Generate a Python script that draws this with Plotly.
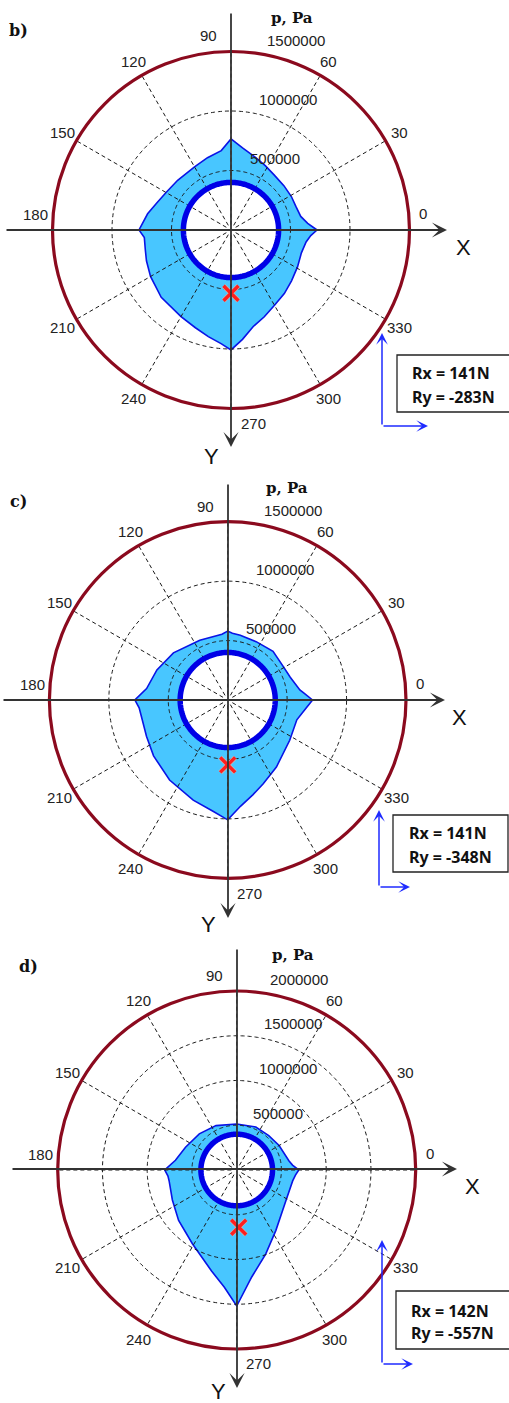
import numpy as np
import plotly.graph_objects as go

# ---------------- data ----------------
panel_names = ["b)", "c)", "d)"]

theta_b = [0, 5, 11, 20, 29, 40, 52, 62, 72, 82, 90, 97, 108, 120, 137, 150, 160, 169, 180, 185,
           193, 200, 210, 224, 240, 250, 258, 265, 270, 276, 283, 291, 300, 310, 320, 331, 342, 351, 356, 360]
p_b = [723000, 647000, 597000, 580000, 580000, 580000, 588000, 613000, 647000, 697000,
       765000, 672000, 639000, 613000, 613000, 630000, 664000, 714000, 773000, 731000,
       739000, 756000, 781000, 815000, 840000, 874000, 916000, 958000, 1008000, 924000,
       832000, 781000, 731000, 697000, 664000, 639000, 622000, 639000, 672000, 723000]

theta_c = [0, 5, 8, 20, 31, 47, 64, 79, 86, 90, 95, 115, 139, 157, 172, 180, 185, 191, 204, 217,
           234, 251, 262, 270, 277, 285, 293, 306, 327, 344, 353, 360]
p_c = [714000, 647000, 613000, 560000, 546000, 559000, 546000, 555000, 563000, 580000,
       555000, 555000, 605000, 647000, 689000, 781000, 748000, 739000, 748000, 781000,
       832000, 891000, 941000, 1008000, 899000, 824000, 765000, 697000, 622000, 605000,
       655000, 714000]

theta_d = [0, 5, 10, 30, 47, 66, 90, 115, 136, 156, 171, 180, 185, 189, 205, 221, 239, 256, 264, 270,
           278, 289, 303, 328, 349, 355, 360]
p_d = [693000, 626000, 592000, 547000, 525000, 525000, 514000, 547000, 581000, 626000,
       693000, 804000, 771000, 765000, 793000, 860000, 961000, 1162000, 1318000, 1520000,
       1207000, 994000, 804000, 648000, 637000, 659000, 693000]

journal_r = 400000                       # thick blue reference circle
cross_r = [532000, 546000, 640000]       # red cross position
cross_theta = [270, 270, 272]
rx_vals = [141, 141, 142]
ry_vals = [-283, -348, -557]
r_max = [1500000, 1500000, 2000000]
radial_ticks = [[500000, 1000000, 1500000],
                [500000, 1000000, 1500000],
                [500000, 1000000, 1500000, 2000000]]
angle_ticks = list(range(0, 360, 30))

thetas = [theta_b, theta_c, theta_d]
pressures = [p_b, p_c, p_d]

# ---------------- layout geometry (pixels) ----------------
W, H = 509, 1403
centers = [(231, 230), (227.7, 700), (236.7, 1170)]
radii = [178.5, 178.3, 179]
x_label_pos = [(463, 247), (459, 717), (472, 1186)]
y_label_pos = [(211, 456), (208, 924), (218, 1391)]
name_pos = [(18, 31), (18, 501), (28, 966)]
unit_pos = [(292, 18), (287, 488), (293, 955)]
xaxis_seg = [((5, 230), (447, 230)), ((2, 700), (445, 700)), ((11, 1169), (457, 1169))]
yaxis_seg = [((231, 12), (231, 447)), ((228, 483), (228, 918)), ((237, 948), (237, 1388))]
box_rect = [(397, 355, 512, 412), (393, 815, 508, 872), (396, 1291, 512, 1349)]
box_text = [(410, 373, 397), (407, 833, 857), (409, 1311, 1333)]
force_axes = [((382, 426), (382, 333), (428, 426)),
              ((379, 887), (379, 810), (410, 887)),
              ((382, 1364), (382, 1240), (413, 1364))]
label_offsets = {0: (5, 1.082), 90: (6.5, 1.095), 180: (-4.5, 1.10), 270: (6.5, 1.09)}
radial_label_theta = [[74, 77.5, 79], [74, 77.5, 79], [72, 77, 79, 80]]


def px(x):
    return x / W


def py(y):
    return 1 - y / H


FILL = "#48C6FF"
EDGE = "#0a14e6"
RING = "#0000e6"
MAROON = "#8b0a1e"
AXIS = "#333333"
GRID = "#1a1a1a"
LABEL_FONT = dict(family="Liberation Sans", size=15, color="#222")

fig = go.Figure()
ring_theta = np.linspace(0, 360, 361)
annotations = []
shapes = []
polars = {}

for i in range(3):
    sp = "polar" if i == 0 else f"polar{i + 1}"
    cx, cy = centers[i]
    R = radii[i]
    polars[sp] = dict(
        domain=dict(x=[px(cx - R), px(cx + R)], y=[py(cy + R), py(cy - R)]),
        bgcolor="white",
        radialaxis=dict(range=[0, r_max[i]], showgrid=False, showline=False,
                        showticklabels=False, ticks=""),
        angularaxis=dict(showgrid=False, showticklabels=False, ticks="",
                         showline=True, linecolor=MAROON, linewidth=3.2,
                         rotation=0, direction="counterclockwise"),
    )
    th = thetas[i]
    pr = pressures[i]
    # pressure area
    fig.add_trace(go.Scatterpolar(r=pr, theta=th, mode="lines", fill="toself",
                                  fillcolor=FILL, line=dict(color=EDGE, width=1.6),
                                  subplot=sp, showlegend=False, hoverinfo="skip"))
    # white interior of journal
    fig.add_trace(go.Scatterpolar(r=[journal_r] * len(ring_theta), theta=ring_theta,
                                  mode="lines", fill="toself", fillcolor="white",
                                  line=dict(width=0, color="white"),
                                  subplot=sp, showlegend=False, hoverinfo="skip"))
    # dashed grid circles
    gr, gt = [], []
    for t in radial_ticks[i]:
        if t < r_max[i]:
            gr += [t] * len(ring_theta) + [None]
            gt += list(ring_theta) + [None]
    fig.add_trace(go.Scatterpolar(r=gr, theta=gt, mode="lines",
                                  line=dict(color=GRID, width=1, dash="4px,3px"),
                                  subplot=sp, showlegend=False, hoverinfo="skip"))
    # dashed spokes
    sr, st = [], []
    for a in angle_ticks:
        sr += [r_max[i] * 0.03, r_max[i], None]
        st += [a, a, None]
    fig.add_trace(go.Scatterpolar(r=sr, theta=st, mode="lines",
                                  line=dict(color=GRID, width=1, dash="4px,3px"),
                                  subplot=sp, showlegend=False, hoverinfo="skip"))
    # journal ring
    fig.add_trace(go.Scatterpolar(r=[journal_r] * len(ring_theta), theta=ring_theta,
                                  mode="lines", line=dict(color=RING, width=5.5),
                                  subplot=sp, showlegend=False, hoverinfo="skip"))
    # red cross
    fig.add_trace(go.Scatterpolar(r=[cross_r[i]], theta=[cross_theta[i]], mode="markers",
                                  marker=dict(symbol="x-thin", size=15,
                                              line=dict(color="#b8b8b8", width=5)),
                                  subplot=sp, showlegend=False, hoverinfo="skip"))
    fig.add_trace(go.Scatterpolar(r=[cross_r[i]], theta=[cross_theta[i]], mode="markers",
                                  marker=dict(symbol="x-thin", size=15,
                                              line=dict(color="#ff1e1e", width=3.4)),
                                  subplot=sp, showlegend=False, hoverinfo="skip"))

    # radial tick labels (text anchored at its lower-left corner next to each circle)
    for t, a in zip(radial_ticks[i], radial_label_theta[i]):
        rp = R * t / r_max[i] + 5
        ang = np.deg2rad(a)
        annotations.append(dict(x=px(cx + rp * np.cos(ang)), y=py(cy - rp * np.sin(ang)),
                                xref="paper", yref="paper", text=str(t), showarrow=False,
                                xanchor="left", yanchor="bottom", font=LABEL_FONT,
                                borderpad=0))

    # angular tick labels (outside the circle)
    for a in angle_ticks:
        off, fac = label_offsets.get(a, (0, 1.092))
        ang = np.deg2rad(a + off)
        lx = cx + R * fac * np.cos(ang)
        ly = cy - R * fac * np.sin(ang)
        annotations.append(dict(x=px(lx), y=py(ly), xref="paper", yref="paper", text=str(a),
                                showarrow=False, xanchor="center", yanchor="middle", font=LABEL_FONT))

    # axes arrows (X right, Y down)
    for (tail, tip) in (xaxis_seg[i], yaxis_seg[i]):
        annotations.append(dict(x=px(tip[0]), y=py(tip[1]), xref="paper", yref="paper",
                                ax=tail[0] - tip[0], ay=tail[1] - tip[1], axref="pixel", ayref="pixel",
                                text="", showarrow=True, arrowhead=3, arrowsize=1.4,
                                arrowwidth=1.8, arrowcolor=AXIS))
    annotations.append(dict(x=px(x_label_pos[i][0]), y=py(x_label_pos[i][1]), xref="paper", yref="paper",
                            text="X", showarrow=False, xanchor="center", yanchor="middle",
                            font=dict(family="Liberation Sans", size=22, color="#111")))
    annotations.append(dict(x=px(y_label_pos[i][0]), y=py(y_label_pos[i][1]), xref="paper", yref="paper",
                            text="Y", showarrow=False, xanchor="center", yanchor="middle",
                            font=dict(family="Liberation Sans", size=22, color="#111")))
    annotations.append(dict(x=px(name_pos[i][0]), y=py(name_pos[i][1]), xref="paper", yref="paper",
                            text="<b>" + panel_names[i] + "</b>", showarrow=False,
                            xanchor="center", yanchor="middle",
                            font=dict(family="DejaVu Serif", size=16, color="#111")))
    annotations.append(dict(x=px(unit_pos[i][0]), y=py(unit_pos[i][1]), xref="paper", yref="paper",
                            text="<b>p, Pa</b>", showarrow=False, xanchor="center", yanchor="middle",
                            font=dict(family="DejaVu Serif", size=15, color="#111")))
    # force box
    x0, y0, x1, y1 = box_rect[i]
    shapes.append(dict(type="rect", xref="paper", yref="paper",
                       x0=px(x0), x1=px(x1), y0=py(y1), y1=py(y0),
                       line=dict(color="#222", width=1.3), fillcolor="white"))
    tx, ty1, ty2 = box_text[i]
    annotations.append(dict(x=px(tx), y=py(ty1), xref="paper", yref="paper",
                            text=f"<b>Rx = {rx_vals[i]}N</b>", showarrow=False,
                            xanchor="left", yanchor="middle",
                            font=dict(family="Noto Sans", size=16, color="#111")))
    annotations.append(dict(x=px(tx), y=py(ty2), xref="paper", yref="paper",
                            text=f"<b>Ry = {ry_vals[i]}N</b>", showarrow=False,
                            xanchor="left", yanchor="middle",
                            font=dict(family="Noto Sans", size=16, color="#111")))
    corner, vtip, htip = force_axes[i]
    for tip in (vtip, htip):
        annotations.append(dict(x=px(tip[0]), y=py(tip[1]), xref="paper", yref="paper",
                                ax=corner[0] - tip[0], ay=corner[1] - tip[1], axref="pixel", ayref="pixel",
                                text="", showarrow=True, arrowhead=3, arrowsize=1.3,
                                arrowwidth=1.5, arrowcolor="#1f2bff"))

fig.update_layout(width=W, height=H, margin=dict(l=0, r=0, t=0, b=0),
                  paper_bgcolor="white", plot_bgcolor="white",
                  showlegend=False, annotations=annotations, shapes=shapes, **polars)

fig.write_html("out.html", config={"displayModeBar": False},
               post_script="document.body.style.margin='0';")
